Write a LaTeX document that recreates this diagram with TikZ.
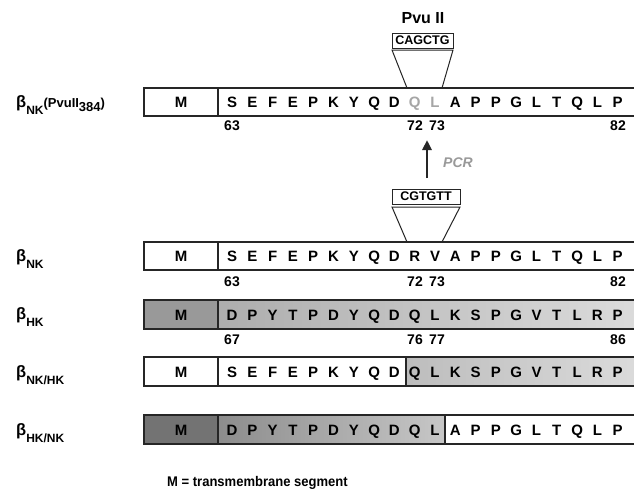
\documentclass[tikz,border=0pt]{standalone}
\usepackage{fontspec}
\setmainfont{Liberation Sans}
\newfontfamily\condfont[FakeStretch=0.93]{Liberation Sans}
\usetikzlibrary{arrows.meta}
\begin{document}
\begin{tikzpicture}[x=1pt,y=-1pt,
  aa/.style={font=\fontsize{15}{15}\selectfont\bfseries, inner sep=0pt, anchor=base},
  ghost/.style={aa, text=black!35},
  num/.style={font=\fontsize{14}{14}\selectfont\bfseries, inner sep=0pt, anchor=base},
  lbl/.style={font=\fontsize{16.5}{16.5}\selectfont\bfseries, inner sep=0pt, anchor=base west},
  bar/.style={draw=black!85, line width=1.1pt},
  site/.style={draw=black!85, line width=1pt, inner sep=0pt, minimum height=15pt,
    font=\fontsize{12.5}{12.5}\selectfont\bfseries},
  leg/.style={draw=black!85, line width=1pt}]
\useasboundingbox[fill=white] (0,0) rectangle (634,491);
\def\xs{232}\def\dx{20.3}
% ---------- row 1 : beta NK (PvuII 384)
\draw[bar] (144,88) rectangle (640,116);
\draw[bar] (218,88) -- (218,116);
\node[aa] (m1) at (181,107) {M};
\foreach \c/\s [count=\i from 0] in {S/aa,E/aa,F/aa,E/aa,P/aa,K/aa,Y/aa,Q/aa,D/aa,Q/ghost,L/ghost,A/aa,P/aa,P/aa,G/aa,L/aa,T/aa,Q/aa,L/aa,P/aa}
  \node[\s] (a1-\i) at ({\xs+\dx*\i},107) {\c};
\node[num] (n1a) at (232,130) {63};
\node[num] (n1b) at (415,130) {72};
\node[num] (n1c) at (437,130) {73};
\node[num] (n1d) at (618,130) {82};
\node[lbl] (l1) at (16,107) {β\raisebox{-7pt}{\fontsize{12}{12}\selectfont NK}\fontsize{13}{13}\selectfont(PvuII\raisebox{-4pt}{384})};
% PvuII site
\node[font=\fontsize{16}{16}\selectfont\bfseries, inner sep=0pt] (pvu) at (423,18) {Pvu II};
\node[site, minimum width=61pt] (s1) at (422.5,40.5) {CAGCTG};
\coordinate (t1a) at (392,50);
\coordinate (t1b) at (453,50);
\coordinate (t1c) at (407,88);
\coordinate (t1d) at (442,88);
\draw[leg] (t1c) -- (t1a) -- (t1b) -- (t1d);
% PCR arrow
\coordinate (p0) at (427,178);
\coordinate (p1) at (427,140);
\draw[line width=2.8pt, black!85, -{Triangle[length=10pt,width=9pt]}] (p0) -- (p1);
\node[font=\fontsize{14}{14}\selectfont\bfseries\itshape, text=black!40, inner sep=0pt] (pcr) at (458,163) {PCR};
% CGTGTT site
\node[site, minimum width=68pt] (s2) at (426,196.5) {CGTGTT};
\coordinate (t2a) at (392,207);
\coordinate (t2b) at (460,207);
\coordinate (t2c) at (407,242);
\coordinate (t2d) at (442,242);
\draw[leg] (t2c) -- (t2a) -- (t2b) -- (t2d);
% ---------- row 2 : beta NK
\draw[bar] (144,242) rectangle (640,270);
\draw[bar] (218,242) -- (218,270);
\node[aa] (m2) at (181,261.5) {M};
\foreach \c [count=\i from 0] in {S,E,F,E,P,K,Y,Q,D,R,V,A,P,P,G,L,T,Q,L,P}
  \node[aa] (a2-\i) at ({\xs+\dx*\i},261.5) {\c};
\node[num] (n2a) at (232,286) {63};
\node[num] (n2b) at (415,286) {72};
\node[num] (n2c) at (437,286) {73};
\node[num] (n2d) at (618,286) {82};
\node[lbl] (l2) at (16,261) {β\raisebox{-7pt}{\fontsize{12}{12}\selectfont NK}};
% ---------- row 3 : beta HK
\fill[black!40] (144,300) rectangle (218,329);
\shade[left color=black!32, right color=black!14] (218,300) rectangle (640,329);
\draw[bar] (144,300) rectangle (640,329);
\draw[bar] (218,300) -- (218,329);
\node[aa] (m3) at (181,320) {M};
\foreach \c [count=\i from 0] in {D,P,Y,T,P,D,Y,Q,D,Q,L,K,S,P,G,V,T,L,R,P}
  \node[aa] (a3-\i) at ({\xs+\dx*\i},320) {\c};
\node[num] (n3a) at (232,344) {67};
\node[num] (n3b) at (415,344) {76};
\node[num] (n3c) at (437,344) {77};
\node[num] (n3d) at (618,344) {86};
\node[lbl] (l3) at (16,319.5) {β\raisebox{-7pt}{\fontsize{12}{12}\selectfont HK}};
% ---------- row 4 : beta NK/HK
\shade[left color=black!26, right color=black!14] (406,357) rectangle (640,386);
\draw[bar] (144,357) rectangle (640,386);
\draw[bar] (218,357) -- (218,386);
\draw[bar] (406,357) -- (406,386);
\node[aa] (m4) at (181,377) {M};
\foreach \c [count=\i from 0] in {S,E,F,E,P,K,Y,Q,D,Q,L,K,S,P,G,V,T,L,R,P}
  \node[aa] (a4-\i) at ({\xs+\dx*\i},377) {\c};
\node[lbl] (l4) at (16,377) {β\raisebox{-7pt}{\fontsize{12}{12}\selectfont NK/HK}};
% ---------- row 5 : beta HK/NK
\fill[black!55] (144,415) rectangle (218,444);
\shade[left color=black!45, right color=black!22] (218,415) rectangle (445,444);
\draw[bar] (144,415) rectangle (640,444);
\draw[bar] (218,415) -- (218,444);
\draw[bar] (445,415) -- (445,444);
\node[aa] (m5) at (181,435) {M};
\foreach \c [count=\i from 0] in {D,P,Y,T,P,D,Y,Q,D,Q,L,A,P,P,G,L,T,Q,L,P}
  \node[aa] (a5-\i) at ({\xs+\dx*\i},435) {\c};
\node[lbl] (l5) at (16,435) {β\raisebox{-7pt}{\fontsize{12}{12}\selectfont HK/NK}};
% ---------- legend
\node[font=\condfont\fontsize{14}{14}\selectfont\bfseries, inner sep=0pt, anchor=base west] (leg) at (167,486) {M = transmembrane segment};
\end{tikzpicture}
\end{document}
